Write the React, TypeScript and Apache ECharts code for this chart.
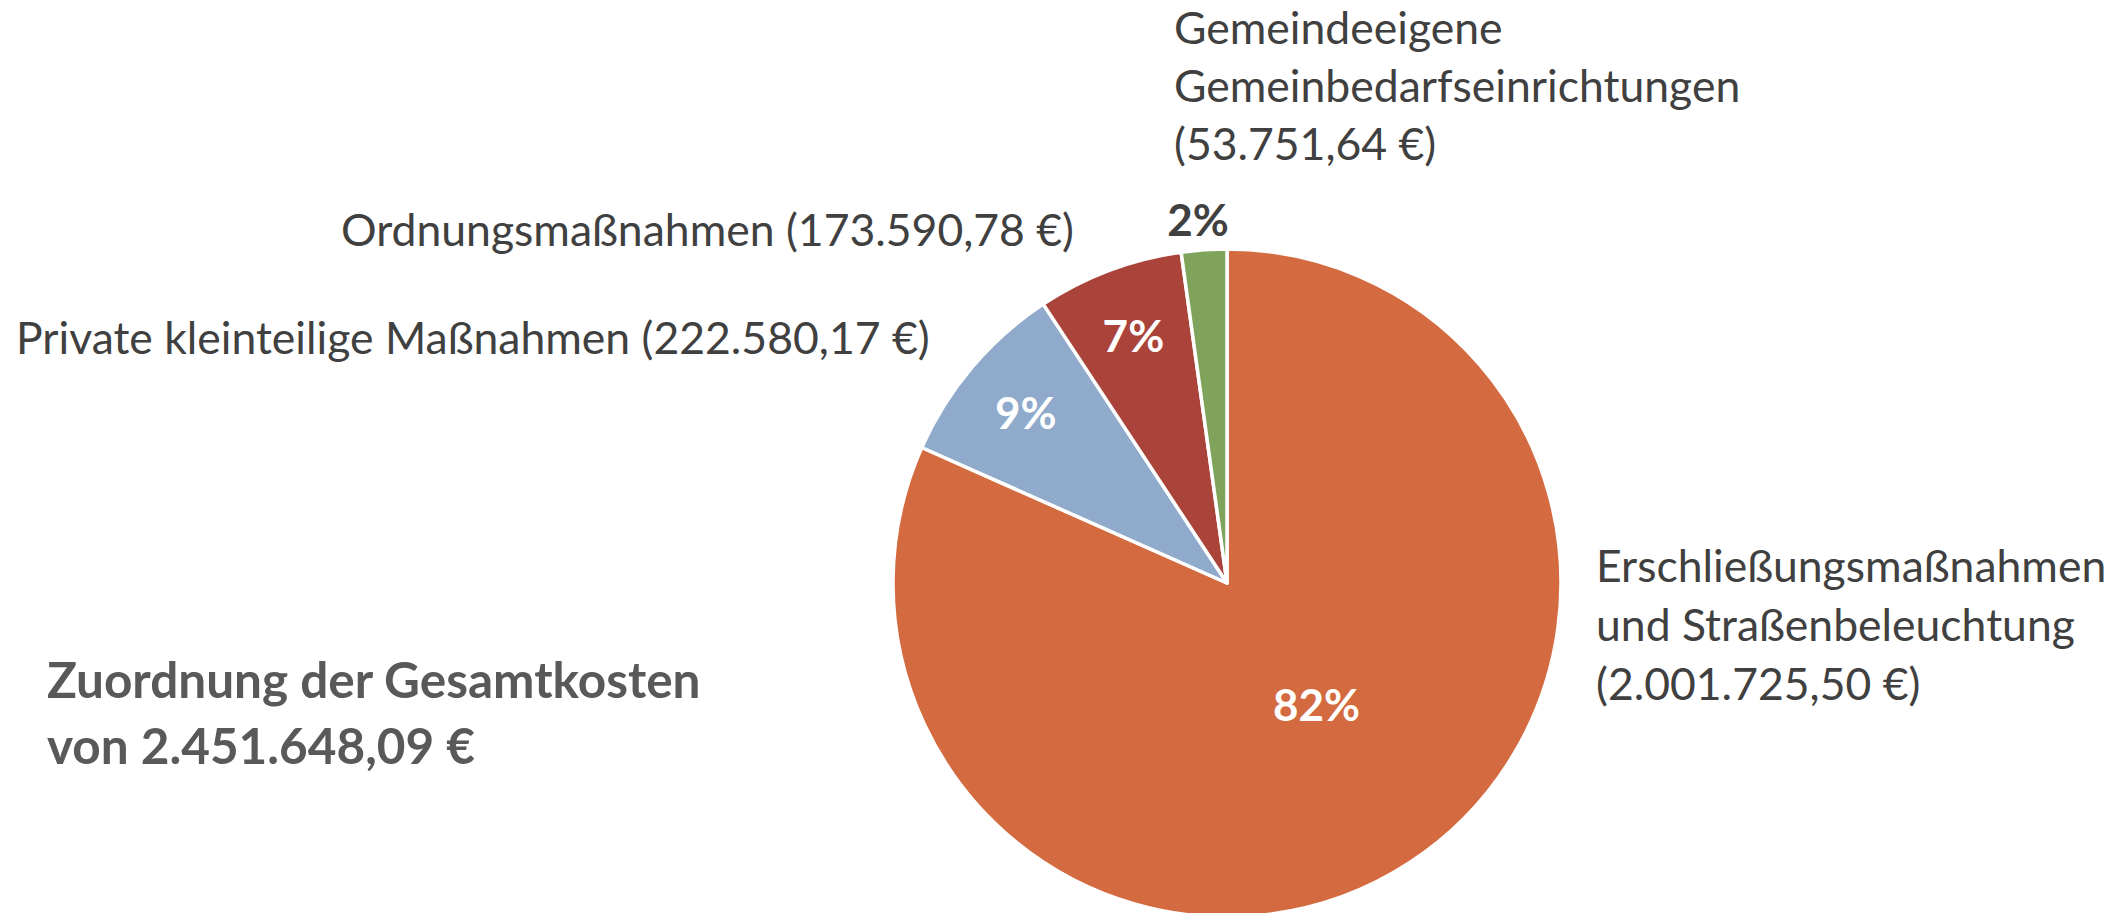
import React, { useEffect, useRef } from "react";
import * as echarts from "echarts";

const categories = [
  "Erschließungsmaßnahmen\nund Straßenbeleuchtung",
  "Private kleinteilige Maßnahmen",
  "Ordnungsmaßnahmen",
  "Gemeindeeigene\nGemeinbedarfseinrichtungen",
];
const values = [2001725.5, 222580.17, 173590.78, 53751.64];
const titleLines = ["Zuordnung der Gesamtkosten", "von"];

const colors = ["#D46B40", "#8FAACA", "#AA433A", "#7FA35A"];
const pctColors = ["#FFFFFF", "#FFFFFF", "#FFFFFF", "#404040"];
// radial position of percentage label as fraction of radius
const pctRadiusFrac = [0.45, 0.79, 0.795, 1.093];
// angular nudge (degrees) for percentage label
const pctAngleNudge = [3.5, 0, 0, 0.6];

const CX = 1227;
const CY = 583;
const R = 334;
const FONT = "Lato, 'Open Sans', sans-serif";

function fmtDE(v: number): string {
  const [intPart, dec] = v.toFixed(2).split(".");
  const withDots = intPart.replace(/\B(?=(\d{3})+(?!\d))/g, ".");
  return withDots + "," + dec;
}

export default function App() {
  const ref = useRef<HTMLDivElement>(null);
  useEffect(() => {
    document.body.style.margin = "0";
    const chart = echarts.init(ref.current!, undefined, { renderer: "svg" });
    const total = values.reduce((a, b) => a + b, 0);
    const cum: number[] = [];
    let acc = 0;
    values.forEach((v) => {
      cum.push(acc);
      acc += v;
    });

    const labelText = (i: number) => {
      const val = "(" + fmtDE(values[i]) + " €)";
      return categories[i].includes("\n") ? categories[i] + "\n" + val : categories[i] + " " + val;
    };

    const labelPlacements = [
      { x: 1596, y: 623, align: "left", lh: 59 },
      { x: 16, y: 336, align: "left", lh: 59 },
      { x: 1074, y: 228, align: "right", lh: 59 },
      { x: 1174, y: 84, align: "left", lh: 58 },
    ];

    const graphics: any[] = labelPlacements.map((p, i) => ({
      type: "text",
      x: p.x,
      y: p.y,
      silent: true,
      style: {
        text: labelText(i),
        fontFamily: FONT,
        fontSize: 44.5,
        fill: "#404040",
        align: p.align,
        verticalAlign: "middle",
        lineHeight: p.lh,
      },
    }));
    graphics.push({
      type: "text",
      x: 47,
      y: 712,
      silent: true,
      style: {
        text: titleLines[0] + "\n" + titleLines[1] + " " + fmtDE(total) + " €",
        fontFamily: FONT,
        fontSize: 49.5,
        fontWeight: "bold",
        fill: "#595959",
        align: "left",
        verticalAlign: "middle",
        lineHeight: 66,
      },
    });

    chart.setOption({
      animation: false,
      backgroundColor: "#FFFFFF",
      graphic: graphics,
      series: [
        {
          type: "pie",
          center: [CX, CY],
          radius: [0, R],
          startAngle: 90,
          clockwise: true,
          percentPrecision: 0,
          avoidLabelOverlap: false,
          silent: true,
          itemStyle: { borderColor: "#FFFFFF", borderWidth: 3.5 },
          label: {
            show: true,
            position: "inside",
            formatter: "{d}%",
            fontFamily: FONT,
            fontSize: 44,
            fontWeight: "bold",
          },
          labelLine: { show: false },
          labelLayout: (p: any) => {
            const i = p.dataIndex;
            const ang = 90 - (360 * (cum[i] + values[i] / 2)) / total + pctAngleNudge[i];
            const rad = (ang * Math.PI) / 180;
            const d = R * pctRadiusFrac[i];
            return {
              x: CX + Math.cos(rad) * d,
              y: CY - Math.sin(rad) * d,
              align: "center",
              verticalAlign: "middle",
            };
          },
          data: values.map((v, i) => ({
            value: v,
            name: categories[i],
            itemStyle: { color: colors[i] },
            label: { color: pctColors[i] },
          })),
        },
      ],
    });
    return () => chart.dispose();
  }, []);
  return <div ref={ref} style={{ width: "2126px", height: "913px", overflow: "hidden" }} />;
}
